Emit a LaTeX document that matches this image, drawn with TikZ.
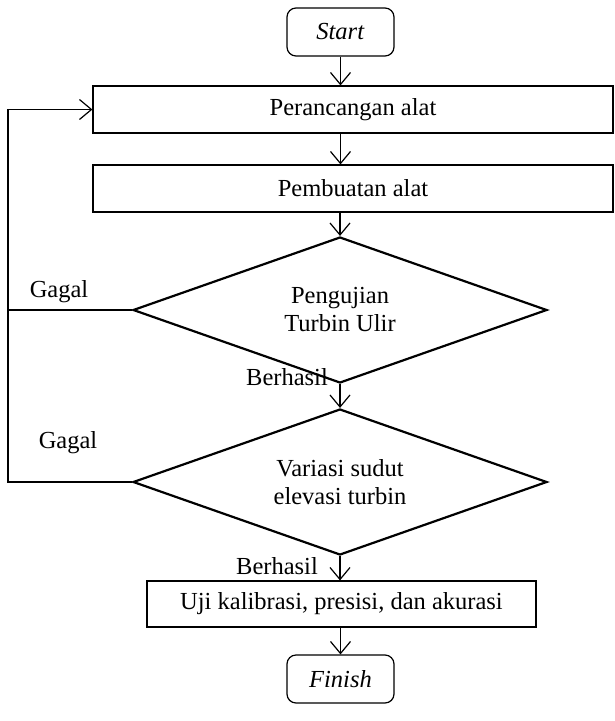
\documentclass[tikz,border=0pt]{standalone}
\usepackage{fontspec}
\setmainfont{Liberation Serif}
\usetikzlibrary{positioning,shapes.geometric,arrows.meta}

\begin{document}
\begin{tikzpicture}[x=1pt, y=-1pt, font=\fontsize{24.5}{28}\selectfont,
  >={Straight Barb[length=12pt,width=20pt,line width=1.2pt]}]
\useasboundingbox (0,0) rectangle (615,721);

\node (start) [rectangle, draw, line width=1.2pt, rounded corners=9pt, minimum width=107pt, minimum height=48pt] at (340.5,32) {\textit{Start}};

\node (rancang) [rectangle, draw, line width=1.2pt, minimum width=520pt, minimum height=47pt] at (353,109.5) {Perancangan alat};
\node (buat) [rectangle, draw, line width=1.2pt, minimum width=520pt, minimum height=47pt] at (353,188.5) {Pembuatan alat};

\node (uji) [diamond, draw, line width=2.2pt, aspect=2.8, inner sep=0pt, minimum width=414pt, minimum height=146pt, align=center] at (340,310) {Pengujian\\Turbin Ulir};
\node (sudut) [diamond, draw, line width=2.2pt, aspect=2.8, inner sep=0pt, minimum width=414pt, minimum height=146pt, align=center] at (340,482) {Variasi sudut\\elevasi turbin};

\node (kalib) [rectangle, draw, line width=1.2pt, minimum width=389pt, minimum height=46pt] at (341.5,604) {Uji kalibrasi, presisi, dan akurasi};
\node (finish) [rectangle, draw, line width=1.2pt, rounded corners=9pt, minimum width=107pt, minimum height=48pt] at (340.5,679) {\textit{Finish}};

% label
\node (gagalA) at (59,292) {Gagal};
\node (gagalB) at (68,443) {Gagal};
\node (hasilA) at (287,377) {Berhasil};
\node (hasilB) at (277,566) {Berhasil};

% alur
\draw [->, line width=1.2pt] (start.south) -- (start.south |- rancang.north);
\draw [->, line width=1.2pt] (rancang.south -| start) -- (buat.north -| start);
\draw [->, line width=1.2pt] (buat.south -| uji) -- (uji.north);
\draw [->, line width=1.2pt] (uji.south) -- (sudut.north);
\draw [->, line width=1.2pt] (sudut.south) -- (kalib.north -| sudut);
\draw [->, line width=1.2pt] (kalib.south -| finish) -- (finish.north);

\coordinate (balik) at (8,0);
\draw [line width=1.8pt] (uji.west) -- (uji.west -| balik);
\draw [->, line width=1.8pt] (sudut.west) -- (sudut.west -| balik) -- (rancang.west -| balik) -- (rancang.west);
\end{tikzpicture}
\end{document}
